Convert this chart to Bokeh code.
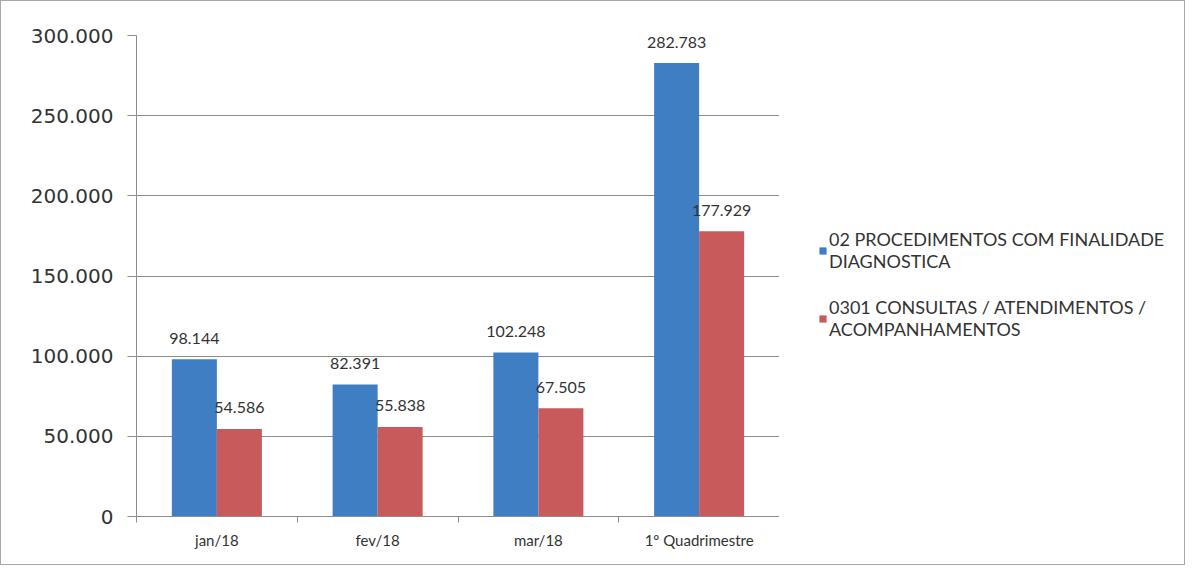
from bokeh.plotting import figure
from bokeh.layouts import row
from bokeh.models import Range1d, FixedTicker, Legend, LegendItem, ColumnDataSource
from bokeh.embed import file_html
from bokeh.resources import INLINE
from bokeh.core.properties import value

categories = ["jan/18", "fev/18", "mar/18", "1º Quadrimestre"]
procedimentos = [98144, 82391, 102248, 282783]
consultas = [54586, 55838, 67505, 177929]
series_names = ["02 PROCEDIMENTOS COM FINALIDADE\nDIAGNOSTICA",
                "0301 CONSULTAS / ATENDIMENTOS /\nACOMPANHAMENTOS"]
y_ticks = [0, 50000, 100000, 150000, 200000, 250000, 300000]
y_tick_labels = ["0", "50.000", "100.000", "150.000", "200.000", "250.000", "300.000"]

BLUE = "#3F7EC2"
RED = "#C85A5C"
TXT = "#333333"
GRID = "#8c8c8c"

def fmt(v):
    return f"{v:,}".replace(",", ".")

n = len(categories)
centers = [i + 0.5 for i in range(n)]
bounds = [i for i in range(n + 1)]
bw = 0.28

src1 = ColumnDataSource(dict(x=[c - bw / 2 for c in centers], y=procedimentos,
                             t=[fmt(v) for v in procedimentos]))
src2 = ColumnDataSource(dict(x=[c + bw / 2 for c in centers], y=consultas,
                             t=[fmt(v) for v in consultas]))

p = figure(frame_width=643, frame_height=481, output_backend="svg", toolbar_location=None,
           x_range=Range1d(0, n), y_range=Range1d(0, 300000),
           min_border_left=135, min_border_right=0, min_border_top=34, min_border_bottom=48)
p.outline_line_color = None
p.background_fill_color = "white"
p.border_fill_color = "white"

p.vbar(x="x", top="y", width=bw, source=src1, fill_color=BLUE, line_color=None)
p.vbar(x="x", top="y", width=bw, source=src2, fill_color=RED, line_color=None)

for src in (src1, src2):
    p.text(x="x", y="y", text="t", source=src, text_align="center", text_baseline="middle",
           y_offset=-21, text_font=value("Lato"), text_font_size="16px", text_color=TXT)

# y axis
p.yaxis.ticker = FixedTicker(ticks=y_ticks, minor_ticks=[])
p.yaxis.major_label_overrides = {t: l for t, l in zip(y_ticks, y_tick_labels)}
p.yaxis.major_label_text_font = "DejaVu Sans"
p.yaxis.major_label_text_font_size = "20px"
p.yaxis.major_label_text_color = TXT
p.yaxis.axis_line_color = GRID
p.yaxis.major_tick_line_color = GRID
p.yaxis.major_tick_out = 9
p.yaxis.major_tick_in = 0
p.yaxis.major_label_standoff = 14

# x axis
p.xaxis.ticker = FixedTicker(ticks=centers, minor_ticks=bounds)
p.xaxis.major_label_overrides = {c: l for c, l in zip(centers, categories)}
p.xaxis.major_label_text_font = "Lato"
p.xaxis.major_label_text_font_size = "15px"
p.xaxis.major_label_text_color = TXT
p.xaxis.axis_line_color = GRID
p.xaxis.major_tick_line_color = None
p.xaxis.major_tick_out = 0
p.xaxis.minor_tick_line_color = GRID
p.xaxis.minor_tick_out = 6
p.xaxis.minor_tick_in = 0
p.xaxis.major_label_standoff = 8

p.xgrid.grid_line_color = None
p.ygrid.grid_line_color = GRID
p.ygrid.grid_line_width = 1

# legend panel (its range shows no bars; the renderers only feed the legend swatches)
q = figure(width=405, height=563, output_backend="svg", toolbar_location=None,
           x_axis_type=None, y_axis_type=None, min_border=0,
           x_range=Range1d(-2, -1), y_range=Range1d(0, 1))
q.outline_line_color = None
q.xgrid.grid_line_color = None
q.ygrid.grid_line_color = None
l1 = q.vbar(x="x", top="y", width=bw, source=src1, fill_color=BLUE, line_color=None)
l2 = q.vbar(x="x", top="y", width=bw, source=src2, fill_color=RED, line_color=None)

legend = Legend(items=[LegendItem(label=series_names[0], renderers=[l1]),
                       LegendItem(label=series_names[1], renderers=[l2])],
                location=(39, 176), orientation="vertical")
legend.label_text_font = "Lato"
legend.label_text_font_size = "18px"
legend.label_text_color = TXT
legend.glyph_width = 9
legend.glyph_height = 9
legend.label_standoff = 2
legend.spacing = 24
legend.padding = 0
legend.margin = 0
legend.border_line_color = None
legend.background_fill_alpha = 0
q.add_layout(legend, "center")

layout = row(p, q, spacing=0)
layout.styles = {"border": "1px solid #a8a8a8"}

open("out.html", "w").write(file_html(layout, INLINE))
